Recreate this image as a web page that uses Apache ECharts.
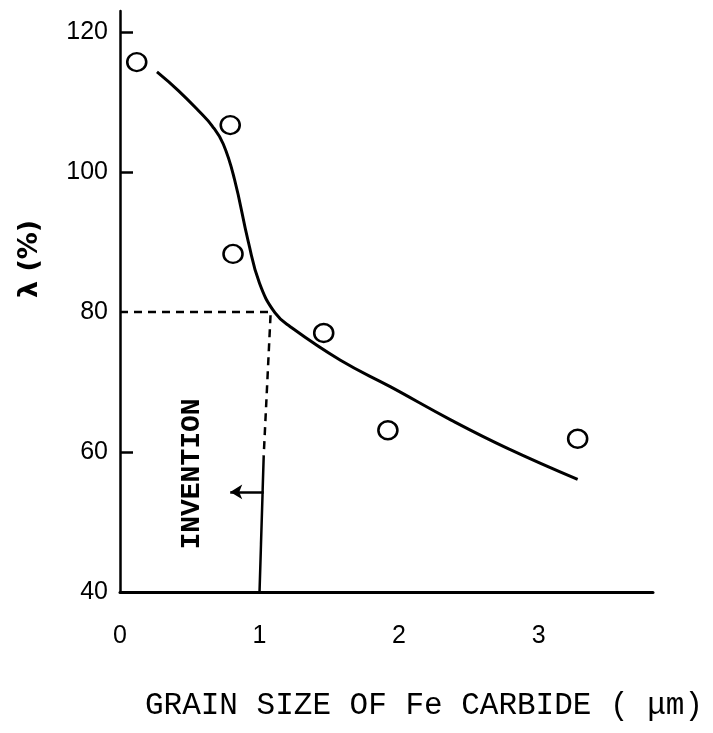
<!DOCTYPE html>
<html>
<head>
<meta charset="utf-8">
<script src="https://cdn.jsdelivr.net/npm/echarts@6/dist/echarts.min.js"></script>
<style>
  html, body { margin: 0; padding: 0; background: #fff; }
  #chart { width: 713px; height: 733px; }
</style>
</head>
<body>
<div id="chart"></div>
<script>
// measured points (open circles)
const pointX = [0.12, 0.79, 0.81, 1.46, 1.92, 3.28];
const pointY = [115.7, 106.7, 88.3, 77.0, 63.1, 61.9];

// fitted curve
const curveX = [0.265, 0.42, 0.57, 0.66, 0.74, 0.82, 0.92, 1.0, 1.11, 1.22, 1.58, 1.94, 2.37, 2.77, 3.28];
const curveY = [114.3, 111.6, 108.6, 106.6, 104.0, 99.0, 90.0, 84.1, 79.9, 77.9, 73.1, 69.3, 64.6, 60.6, 56.1];

// invention boundary (dashed part, then solid part) and arrow
const dashX = [0, 1.08, 1.03];
const dashY = [80, 80, 59.5];
const solidX = [1.03, 1.0];
const solidY = [59.5, 40];
const arrowX = [1.03, 0.79];
const arrowY = 54.3;

const xTicks = [0, 1, 2, 3];
const yTicks = [40, 60, 80, 100, 120];
const yTickMarks = [60, 100, 120];

const zip = (xs, ys) => xs.map((x, i) => [x, ys[i]]);

const chart = echarts.init(document.getElementById('chart'));

const option = {
  animation: false,
  backgroundColor: '#fff',
  grid: { left: 120, right: 60, top: 11, bottom: 141 },
  xAxis: {
    type: 'value',
    min: 0,
    max: 3.82,
    interval: 1,
    splitLine: { show: false },
    axisLine: { lineStyle: { color: '#000', width: 3 } },
    axisTick: { show: false },
    axisLabel: {
      customValues: xTicks,
      margin: 32,
      color: '#000',
      fontSize: 25,
      fontFamily: 'Liberation Sans',
      formatter: v => (xTicks.includes(v) ? String(v) : '')
    }
  },
  yAxis: {
    type: 'value',
    min: 40,
    max: 123,
    interval: 20,
    splitLine: { show: false },
    axisLine: { lineStyle: { color: '#000', width: 2.5 } },
    axisTick: {
      customValues: yTickMarks,
      inside: true,
      length: 13,
      lineStyle: { color: '#000', width: 2.5 }
    },
    axisLabel: {
      customValues: yTicks,
      margin: 12,
      color: '#000',
      fontSize: 25,
      fontFamily: 'Liberation Sans',
      formatter: v => (yTicks.includes(v) ? String(v) : '')
    }
  },
  graphic: [
    {
      type: 'text',
      x: 30, y: 259,
      rotation: Math.PI / 2,
      style: {
        text: 'λ (%)',
        font: 'bold 27px "DejaVu Sans"',
        fill: '#000',
        align: 'center',
        verticalAlign: 'middle'
      }
    },
    {
      type: 'text',
      x: 192, y: 474,
      rotation: Math.PI / 2,
      style: {
        text: 'INVENTION',
        font: 'bold 28px "Liberation Mono"',
        fill: '#000',
        align: 'center',
        verticalAlign: 'middle'
      }
    },
    {
      type: 'text',
      x: 424, y: 706,
      style: {
        text: 'GRAIN SIZE OF Fe CARBIDE ( μm)',
        font: '31px "Liberation Mono"',
        fill: '#000',
        align: 'center',
        verticalAlign: 'middle'
      }
    }
  ],
  series: [
    {
      name: 'curve',
      type: 'line',
      data: zip(curveX, curveY),
      smooth: 0.45,
      symbol: 'none',
      lineStyle: { color: '#000', width: 3 }
    },
    {
      name: 'dashed',
      type: 'line',
      data: zip(dashX, dashY),
      symbol: 'none',
      lineStyle: { color: '#000', width: 2.5, type: [8, 6] }
    },
    {
      name: 'solid',
      type: 'line',
      data: zip(solidX, solidY),
      symbol: 'none',
      lineStyle: { color: '#000', width: 2.5 },
      markLine: {
        silent: true,
        symbol: ['none', 'arrow'],
        symbolSize: [11, 12],
        label: { show: false },
        lineStyle: { color: '#000', width: 2.5, type: 'solid' },
        data: [[{ coord: [arrowX[0], arrowY] }, { coord: [arrowX[1], arrowY] }]]
      }
    },
    {
      name: 'points',
      type: 'scatter',
      data: zip(pointX, pointY),
      symbol: 'circle',
      symbolSize: [19, 18],
      itemStyle: { color: 'rgba(0,0,0,0)', borderColor: '#000', borderWidth: 2.5, opacity: 1 },
      z: 5
    }
  ]
};

chart.setOption(option);
</script>
</body>
</html>
